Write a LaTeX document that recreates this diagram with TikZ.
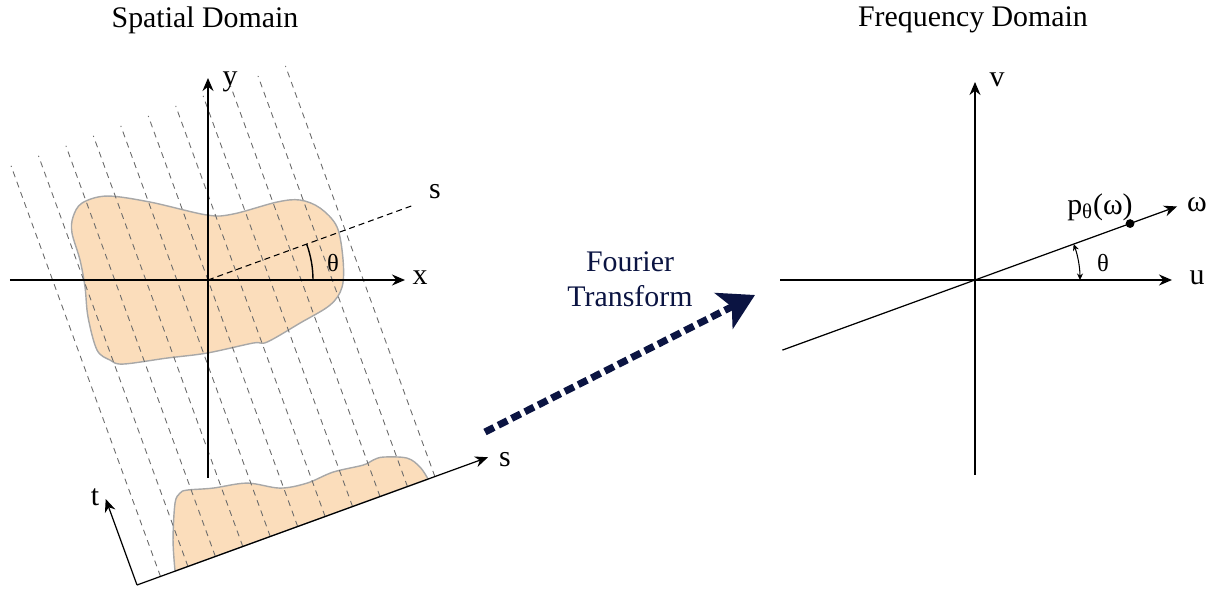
\documentclass[tikz,border=0pt]{standalone}
\usepackage{fontspec}
\setmainfont{Liberation Serif}
\usepackage{tikz}
\usetikzlibrary{arrows.meta,calc,positioning}
\definecolor{Blob_Fill}{HTML}{FBDDBB}
\definecolor{Blob_Line}{HTML}{A8A8A8}
\definecolor{FT_Navy}{HTML}{0B1442}
\definecolor{Ray_Gray}{HTML}{6A6A6A}

\begin{document}
\begin{tikzpicture}[>=Stealth,
    axis/.style={line width=0.7pt, -{Stealth[length=2.6mm,width=2.2mm]}},
    ray/.style={Ray_Gray, line width=0.5pt, dash pattern=on 3.4pt off 2.8pt},
    blob/.style={fill=Blob_Fill, draw=Blob_Line, line width=0.8pt},
    lab/.style={font=\fontsize{17}{20}\selectfont, inner sep=1pt},
    ang/.style={font=\fontsize{14}{16}\selectfont, inner sep=1pt}]
    \useasboundingbox (0,0) rectangle (24.44,11.8);

    % Titles
    \node[lab] (spatial) at (4.1,11.4) {Spatial Domain};
    \node[lab] (freq) at (19.46,11.4) {Frequency Domain};

    % Object and its projection (pixel units)
    \begin{scope}[x=0.02cm, y=-0.02cm, yshift=11.8cm]
        \draw[blob] plot[smooth cycle, tension=0.55] coordinates {
            (82,203) (107,196) (150,202) (207,215) (233,214) (277,202)
            (300,200) (320,208) (337,227) (343,260) (342,287) (330,305)
            (300,323) (267,342) (253,343) (207,353) (167,358) (123,364)
            (110,360) (97,350) (88,317) (85,287) (80,260) (72,233) (73,217)};
        \draw[blob] plot[smooth, tension=0.55] coordinates {
            (175,571) (173,540) (175,503) (180,493) (187,490) (213,488)
            (247,483) (280,488) (307,483) (333,472) (363,465) (373,460)
            (383,457) (407,458) (420,467) (428,479)} -- cycle;
    \end{scope}

    % Projection rays and rotated frame
    \begin{scope}[shift={(2.74,0.10)}, rotate=20]
        \foreach \k in {0,...,10}
            \draw[ray] ({3.42+0.584*(\k-5)},0) -- ++(0,8.74);
        \coordinate (Sorig) at (0,0);
        \coordinate (Send) at (7.47,0);
        \coordinate (Tend) at (0,1.83);
    \end{scope}
    \draw[axis] (Sorig) -- (Send);
    \draw[axis] (Sorig) -- (Tend);
    \node[lab] (slow) at (10.1,2.6) {s};
    \node[lab] (tlab) at (1.9,1.86) {t};

    % Spatial axes
    \coordinate (O) at (4.16,6.2);
    \coordinate (xstart) at (0.2,6.2);
    \coordinate (xend) at (8.1,6.2);
    \coordinate (ystart) at (4.16,2.24);
    \coordinate (yend) at (4.16,10.24);
    \draw[axis] (xstart) -- (xend);
    \draw[axis] (ystart) -- (yend);
    \node[lab] (xlab) at (8.4,6.24) {x};
    \node[lab] (ylab) at (4.6,10.16) {y};
    \coordinate (stop) at ($(O)+(20:4.36)$);
    \draw[line width=0.6pt, dash pattern=on 3.4pt off 2.3pt] (O) -- (stop);
    \node[lab] (shigh) at (8.7,7.96) {s};
    \draw[line width=0.8pt] ($(O)+(0:2.1)$) arc (0:20:2.1);
    \node[ang] (thetaS) at (6.66,6.54) {θ};

    % Fourier transform arrow
    \coordinate (ftstart) at (9.7,3.16);
    \coordinate (ftend) at (15.1,5.9);
    \draw[FT_Navy, line width=4pt, dash pattern=on 5.7pt off 2.8pt,
        -{Stealth[length=7mm,width=8mm,inset=1.8mm]}] (ftstart) -- (ftend);
    \node[lab, FT_Navy, align=center] (ft) at (12.6,6.21) {Fourier\\Transform};

    % Frequency axes
    \coordinate (F) at (19.5,6.2);
    \coordinate (ustart) at (15.6,6.2);
    \coordinate (uend) at (23.44,6.2);
    \coordinate (vstart) at (19.5,2.3);
    \coordinate (vend) at (19.5,10.16);
    \draw[axis] (ustart) -- (uend);
    \draw[axis] (vstart) -- (vend);
    \node[lab] (ulab) at (23.94,6.24) {u};
    \node[lab] (vlab) at (19.94,10.2) {v};
    \coordinate (wstart) at ($(F)+(200:4.1)$);
    \coordinate (wend) at ($(F)+(20:4.3)$);
    \draw[axis] (wstart) -- (wend);
    \node[lab] (wlab) at (23.94,7.7) {ω};
    \node[circle, fill, inner sep=0pt, minimum size=5pt] (pdot) at ($(F)+(20:3.3)$) {};
    \node[lab] (plab) at (22.0,7.66) {p\textsubscript{θ}(ω)};
    \draw[line width=0.6pt, {Stealth[length=1.3mm,width=1.2mm]}-{Stealth[length=1.3mm,width=1.2mm]}]
        ($(F)+(0:2.1)$) arc (0:20:2.1);
    \node[ang] (thetaF) at (22.06,6.54) {θ};

\end{tikzpicture}
\end{document}
